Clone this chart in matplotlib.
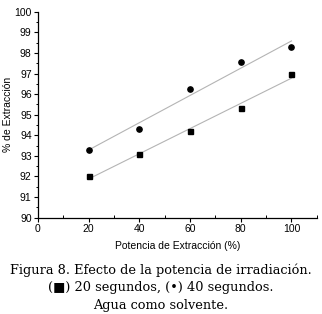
import numpy as np
import matplotlib
matplotlib.use('Agg')
import matplotlib.pyplot as plt
from matplotlib.ticker import MultipleLocator

potencia = [20, 40, 60, 80, 100]
seg20 = [92.0, 93.1, 94.2, 95.35, 97.0]
seg40 = [93.3, 94.3, 96.25, 97.55, 98.3]

plt.rcParams['font.family'] = ['Liberation Sans', 'DejaVu Sans']

fig = plt.figure(figsize=(3.22, 3.14), dpi=100)
ax = fig.add_axes([0.118, 0.307, 0.866, 0.655])

# linear fits (grey lines)
xf = np.array([potencia[0], potencia[-1]])
for ys in (seg20, seg40):
    p = np.polyfit(potencia, ys, 1)
    ax.plot(xf, np.polyval(p, xf), color='#b4b4b4', lw=0.8, zorder=1)

ax.plot(potencia, seg20, 's', color='black', ms=3.6, zorder=2)
ax.plot(potencia, seg40, 'o', color='black', ms=3.8, zorder=2)

ax.set_xlim(0, 110)
ax.set_ylim(90, 100)
ax.xaxis.set_major_locator(MultipleLocator(20))
ax.xaxis.set_minor_locator(MultipleLocator(10))
ax.yaxis.set_major_locator(MultipleLocator(1))
ax.yaxis.set_minor_locator(MultipleLocator(0.5))
ax.spines['top'].set_visible(False)
ax.spines['right'].set_visible(False)
for s in ('left', 'bottom'):
    ax.spines[s].set_linewidth(0.9)
ax.tick_params(axis='both', which='major', labelsize=7.5, length=3, width=0.8, pad=1.5)
ax.tick_params(axis='y', which='minor', length=1.8, width=0.7, direction='out')
ax.tick_params(axis='x', which='minor', length=2, width=0.7, direction='in')

ax.set_xlabel('Potencia de Extracción (%)', fontsize=7.5, labelpad=5)
ax.set_ylabel('% de Extracción', fontsize=7.5, labelpad=1)

cap = dict(ha='center', va='center', fontsize=9.3, family=['DejaVu Serif', 'DejaVu Sans'])
fig.text(0.5, 1 - 270 / 314, 'Figura 8. Efecto de la potencia de irradiación.', **cap)
fig.text(0.5, 1 - 288 / 314, '(■) 20 segundos, (•) 40 segundos.', **cap)
fig.text(0.5, 1 - 305 / 314, 'Agua como solvente.', **cap)

fig.savefig('out.png', dpi=100)
